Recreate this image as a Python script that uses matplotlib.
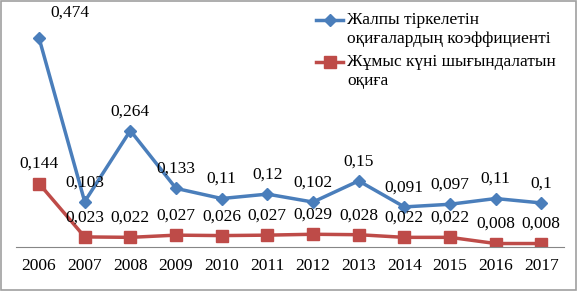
import numpy as np
import matplotlib.pyplot as plt
from matplotlib.lines import Line2D

plt.rcParams['font.family'] = ['Liberation Serif', 'DejaVu Serif']

years = ["2006", "2007", "2008", "2009", "2010", "2011",
         "2012", "2013", "2014", "2015", "2016", "2017"]
total = [0.474, 0.103, 0.264, 0.133, 0.11, 0.12,
         0.102, 0.15, 0.091, 0.097, 0.11, 0.1]
lost_days = [0.144, 0.023, 0.022, 0.027, 0.026, 0.027,
             0.029, 0.028, 0.022, 0.022, 0.008, 0.008]
names = ["Жалпы тіркелетін\nоқиғалардың коэффициенті",
         "Жұмыс күні шығындалатын\nоқиға"]

blue = "#4a7ebb"
red = "#be4b48"
W, H = 578, 291

fig = plt.figure(figsize=(5.78, 2.91), dpi=100)
fig.patches.append(plt.Rectangle((0.002, 0.003), 0.995, 0.994, transform=fig.transFigure,
                                 fill=False, edgecolor="#a0a0a0", linewidth=1.2))
ax = fig.add_axes([0.028, 0.151, 0.948, 0.758])

x = np.arange(len(years))
ax.plot(x, total, color=blue, lw=2.5, marker="D", ms=6)
ax.plot(x, lost_days, color=red, lw=2.5, marker="s", ms=8)

def fmt(v):
    return ("%g" % v).replace(".", ",")

for i, v in enumerate(total):
    off = (22, 18) if i == 0 else (0, 14)
    ax.annotate(fmt(v), (x[i], v), xytext=off, textcoords="offset points",
                ha="center", va="center", fontsize=12.5)
for i, v in enumerate(lost_days):
    ax.annotate(fmt(v), (x[i], v), xytext=(0, 14), textcoords="offset points",
                ha="center", va="center", fontsize=12.5)

ax.set_xlim(-0.5, len(years) - 0.5)
ax.set_ylim(0, 0.5)
ax.set_xticks(x)
ax.set_xticklabels(years, fontsize=12.5)
ax.tick_params(axis="x", length=0, pad=8)
ax.set_yticks([])
for s in ["top", "right", "left"]:
    ax.spines[s].set_visible(False)
ax.spines["bottom"].set_color("#868686")

# legend drawn by hand so the marker sits on the first text line
for (ypx, col, mk, ms), name in zip([(20, blue, "D", 6), (62, red, "s", 8)], names):
    yf = 1 - ypx / H
    fig.add_artist(Line2D([316 / W, 343 / W], [yf, yf], color=col, lw=2.5,
                          transform=fig.transFigure))
    fig.add_artist(Line2D([329.5 / W], [yf], color=col, marker=mk, ms=ms,
                          transform=fig.transFigure))
    fig.text(347 / W, 1 - (ypx - 8) / H, name, fontsize=12.5, va="top",
             ha="left", linespacing=1.27)

fig.savefig("out.png", dpi=100)
